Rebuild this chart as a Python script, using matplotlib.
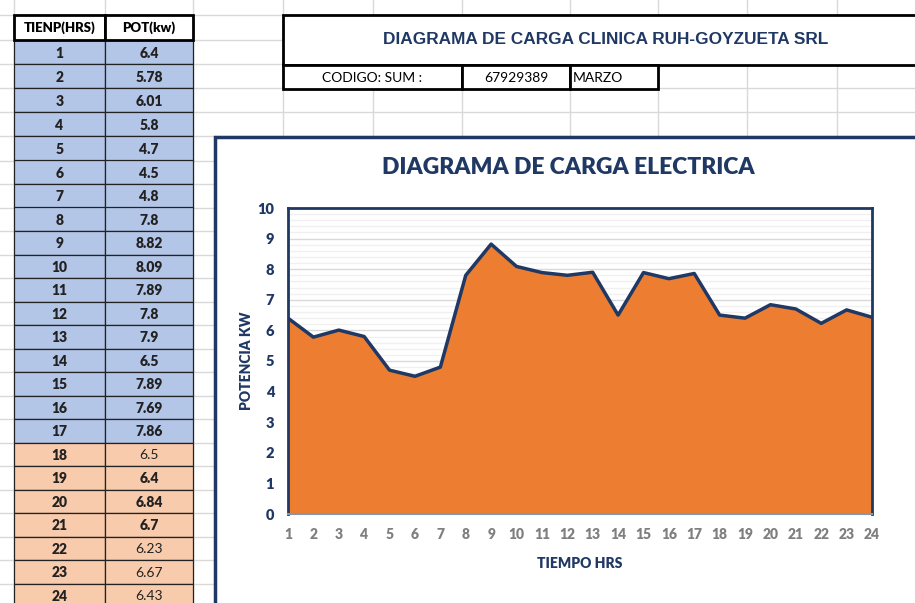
import matplotlib
matplotlib.use('Agg')
import matplotlib.pyplot as plt
from matplotlib.patches import Rectangle
from matplotlib.lines import Line2D
from matplotlib.ticker import MultipleLocator

# data from the sheet
horas = list(range(1, 25))
potencia = [6.4, 5.78, 6.01, 5.8, 4.7, 4.5, 4.8, 7.8, 8.82, 8.09, 7.89, 7.8,
            7.9, 6.5, 7.89, 7.69, 7.86, 6.5, 6.4, 6.84, 6.7, 6.23, 6.67, 6.43]
pot_txt = ['6.4', '5.78', '6.01', '5.8', '4.7', '4.5', '4.8', '7.8', '8.82', '8.09', '7.89', '7.8',
           '7.9', '6.5', '7.89', '7.69', '7.86', '6.5', '6.4', '6.84', '6.7', '6.23', '6.67', '6.43']
pot_bold = [True] * 17 + [False, True, True, True, False, False, False]
titulo = 'DIAGRAMA DE CARGA CLINICA RUH-GOYZUETA SRL'
codigo = '67929389'
mes = 'MARZO'

W, H = 915, 603
navy = '#1F3864'
grid = '#D9D9D9'
blue = '#B4C6E7'
peach = '#F8CBAD'
orange = '#ED7D31'
BOLD = 'heavy'

fig = plt.figure(figsize=(W / 100, H / 100), dpi=100)
fig.patch.set_facecolor('white')


def rect(x0, y0, x1, y1, fc='none', ec='black', lw=1, z=1):
    r = Rectangle((x0 / W, 1 - y1 / H), (x1 - x0) / W, (y1 - y0) / H,
                  transform=fig.transFigure, facecolor=fc, edgecolor=ec, lw=lw, zorder=z)
    fig.add_artist(r)


def line(x0, y0, x1, y1, c=grid, lw=1, z=-2):
    fig.add_artist(Line2D([x0 / W, x1 / W], [1 - y0 / H, 1 - y1 / H], color=c, lw=lw,
                          transform=fig.transFigure, zorder=z))


def text(x, y, s, **kw):
    fig.text(x / W, 1 - y / H, s, va='center', **kw)


# spreadsheet grid
row_y = [15, 40] + [40 + 24.1 * k for k in range(1, 6)]
row_y += [row_y[-1] + 23.5 * k for k in range(1, 20)]
cols = [14, 105, 193, 283, 373, 462, 570, 658, 747, 837]
for y in row_y:
    line(0, y, W, y)
for x in cols:
    line(x, 0, x, H)

# left table
t_font = 'Lato'
rect(14, 15, 105, 40, fc='white', ec='black', lw=2, z=2)
rect(105, 15, 193, 40, fc='white', ec='black', lw=2, z=2)
text(59.5, 28, 'TIENP(HRS)', ha='center', fontsize=9.5, fontweight=BOLD, family=t_font, zorder=3)
text(149, 28, 'POT(kw)', ha='center', fontsize=9.5, fontweight=BOLD, family=t_font, zorder=3)
for i, h in enumerate(horas):
    y0, y1 = row_y[i + 1], row_y[i + 2]
    fc = blue if i < 17 else peach
    rect(14, y0, 105, y1, fc=fc, ec='#222222', lw=0.9, z=1)
    rect(105, y0, 193, y1, fc=fc, ec='#222222', lw=0.9, z=1)
    yc = (y0 + y1) / 2 + 1
    text(59.5, yc, str(h), ha='center', fontsize=10, fontweight=BOLD, family=t_font, color='#222222', zorder=3)
    text(149, yc, pot_txt[i], ha='center', fontsize=10, family=t_font, color='#222222',
         fontweight=BOLD if pot_bold[i] else 'normal', zorder=3)

# title box
rect(283, 15, 920, 65, fc='white', ec='black', lw=2, z=1)
text(606, 40, titulo, ha='center', fontsize=12.4, fontweight='bold', family='Liberation Sans',
     color=navy, zorder=3)
rect(283, 65, 462, 89, fc='white', ec='black', lw=2, z=1)
rect(462, 65, 570, 89, fc='white', ec='black', lw=2, z=1)
rect(570, 65, 658, 89, fc='white', ec='black', lw=2, z=1)
text(372, 78, 'CODIGO: SUM :', ha='center', fontsize=10, family=t_font, zorder=3)
text(516, 78, codigo, ha='center', fontsize=10, family=t_font, zorder=3)
text(573, 78, mes, ha='left', fontsize=10, family=t_font, zorder=3)

# chart box
rect(215, 137, 925, 615, fc='white', ec=navy, lw=2.5, z=0)
text(568, 167, 'DIAGRAMA DE CARGA ELECTRICA', ha='center', fontsize=16.5, fontweight=BOLD,
     family=t_font, color=navy, zorder=3)

ax = fig.add_axes([288 / W, 1 - 514 / H, (872 - 288) / W, (514 - 208) / H])
ax.set_zorder(5)
ax.fill_between(horas, potencia, 0, color=orange, zorder=2, lw=0)
ax.plot(horas, potencia, color=navy, lw=2.5, zorder=3)
ax.set_xlim(1, 24)
ax.set_ylim(0, 10)
ax.set_xticks(horas)
ax.yaxis.set_major_locator(MultipleLocator(1))
ax.yaxis.set_minor_locator(MultipleLocator(0.2))
ax.grid(which='major', axis='y', color='#D9D9D9', lw=1, zorder=0)
ax.grid(which='minor', axis='y', color='#F0F0F0', lw=1, zorder=0)
ax.tick_params(which='both', length=0)
ax.tick_params(axis='y', pad=10, labelsize=10.5, labelcolor=navy)
ax.tick_params(axis='x', pad=10, labelsize=10, labelcolor='#7F7F7F')
for lab in ax.get_yticklabels() + ax.get_xticklabels():
    lab.set_fontweight(BOLD)
    lab.set_family(t_font)
for s in ['top', 'left', 'right']:
    ax.spines[s].set_color(navy)
    ax.spines[s].set_linewidth(2)
ax.spines['bottom'].set_color('#8497B0')
ax.spines['bottom'].set_linewidth(1.5)
ax.set_xlabel('TIEMPO HRS', fontsize=10, fontweight=BOLD, color=navy, family=t_font)
ax.set_ylabel('POTENCIA KW', fontsize=10, fontweight=BOLD, color=navy, family=t_font)
ax.xaxis.set_label_coords(0.5, -0.141)
ax.yaxis.set_label_coords(-0.060, 0.5)

fig.savefig('out.png', dpi=100)
